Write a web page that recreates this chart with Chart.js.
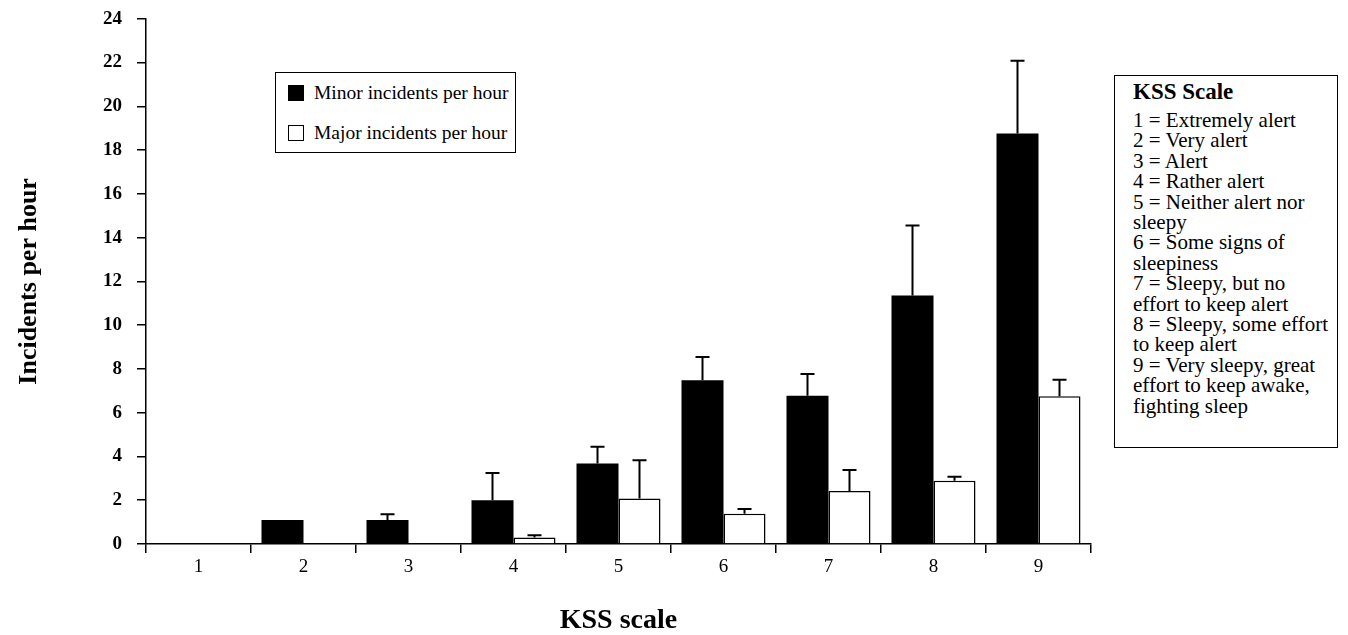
<!DOCTYPE html>
<html>
<head>
<meta charset="utf-8">
<script src="https://cdn.jsdelivr.net/npm/chart.js@4.4.1/dist/chart.umd.min.js"></script>
<style>
  body{margin:0;background:#fff;}
  #wrap{position:relative;width:1348px;height:635px;}
  #legendBox{position:absolute;left:275px;top:72px;width:241px;height:81px;border:1.5px solid #000;background:#fff;box-sizing:border-box;
    font-family:"Liberation Serif",serif;font-size:19.5px;color:#000;}
  .row{position:absolute;left:12px;display:flex;align-items:center;}
  .sw{width:16px;height:16px;border:1.5px solid #000;margin-right:10px;box-sizing:border-box;}
  #kssBox{position:absolute;left:1114px;top:75px;width:224px;height:373px;border:1.5px solid #000;background:#fff;
    font-family:"Liberation Serif",serif;font-size:21px;color:#000;padding:6px 0 0 18px;box-sizing:border-box;line-height:20.4px;white-space:nowrap;}
  #kssBox b{display:block;font-size:23px;margin-bottom:7.6px;}
</style>
</head>
<body>
<div id="wrap">
  <canvas id="chart" width="1348" height="635"></canvas>
  <div id="legendBox"></div>
  <div id="kssBox"></div>
</div>
<script>
const kssLabels=['1','2','3','4','5','6','7','8','9']
const minorIncidents=[0,1.1,1.1,2.0,3.68,7.48,6.77,11.36,18.76]
const minorErrTop=[0,1.1,1.36,3.25,4.44,8.55,7.77,14.55,22.08]
const majorIncidents=[0,0,0,0.3,2.08,1.38,2.42,2.89,6.75]
const majorErrTop=[0,0,0,0.4,3.83,1.6,3.38,3.07,7.51]
const yTicks=[0,2,4,6,8,10,12,14,16,18,20,22,24]
const kssDescriptions=['1 = Extremely alert','2 = Very alert','3 = Alert','4 = Rather alert','5 = Neither alert nor','sleepy',
  '6 = Some signs of','sleepiness','7 = Sleepy, but no','effort to keep alert','8 = Sleepy, some effort','to keep alert',
  '9 = Very sleepy, great','effort to keep awake,','fighting sleep']

const serif='"Liberation Serif", "Times New Roman", serif'
const errTops=[minorErrTop,majorErrTop]

// error bars (upper only) drawn from the y scale
const errorBars={
  id:'errorBars',
  afterDatasetsDraw(chart){
    const ctx=chart.ctx
    const y=chart.scales.y
    ctx.save()
    ctx.strokeStyle='#000'
    ctx.lineWidth=2
    chart.data.datasets.forEach((ds,di)=>{
      const meta=chart.getDatasetMeta(di)
      meta.data.forEach((bar,i)=>{
        const top=errTops[di][i]
        if(top<=ds.data[i]) return
        const y0=y.getPixelForValue(ds.data[i])
        const y1=y.getPixelForValue(top)
        ctx.beginPath()
        ctx.moveTo(bar.x,y0)
        ctx.lineTo(bar.x,y1)
        ctx.moveTo(bar.x-7,y1)
        ctx.lineTo(bar.x+7,y1)
        ctx.stroke()
      })
    })
    ctx.restore()
  }
}

const chart=new Chart(document.getElementById('chart'),{
  type:'bar',
  data:{
    labels:kssLabels,
    datasets:[{
      label:'Minor incidents per hour',
      data:minorIncidents,
      backgroundColor:'#000',
      borderColor:'#000',
      borderWidth:0
    },{
      label:'Major incidents per hour',
      data:majorIncidents,
      backgroundColor:'#fff',
      borderColor:'#000',
      borderWidth:1.5
    }]
  },
  options:{
    responsive:false,
    animation:false,
    categoryPercentage:0.8,
    barPercentage:1.0,
    layout:{padding:{top:0,right:257,left:0,bottom:0}},
    plugins:{legend:{display:false},tooltip:{enabled:false}},
    scales:{
      x:{
        grid:{offset:true,drawOnChartArea:false,tickLength:9,color:'#000',lineWidth:1.5},
        border:{color:'#000',width:1.5},
        ticks:{color:'#000',font:{family:serif,size:19},padding:3},
        title:{display:true,text:'KSS scale',color:'#000',font:{family:serif,size:28,weight:'bold',lineHeight:1},padding:{top:0,bottom:0}},
        afterFit(scale){scale.height=91}
      },
      y:{
        min:0,max:24,
        grid:{drawOnChartArea:false,tickLength:9,color:'#000',lineWidth:1.5},
        border:{color:'#000',width:1.5},
        ticks:{color:'#000',stepSize:2,font:{family:serif,size:19,weight:'bold',lineHeight:0.4},padding:15,
          callback:v=>yTicks.includes(v)?v:''},
        title:{display:true,text:'Incidents per hour',color:'#000',font:{family:serif,size:26,weight:'bold'},padding:{top:14,bottom:0}},
        afterFit(scale){scale.width=146}
      }
    }
  },
  plugins:[errorBars]
})

// legend from the datasets
const legendBox=document.getElementById('legendBox')
chart.data.datasets.forEach((ds,i)=>{
  const row=document.createElement('div')
  row.className='row'
  row.style.top=(i==0?9:49)+'px'
  row.innerHTML='<span class="sw" style="background:'+ds.backgroundColor+'"></span>'+ds.label
  legendBox.appendChild(row)
})

const kssBox=document.getElementById('kssBox')
kssBox.innerHTML='<b>KSS Scale</b>'+kssDescriptions.map(t=>'<div>'+t+'</div>').join('')
</script>
</body>
</html>
